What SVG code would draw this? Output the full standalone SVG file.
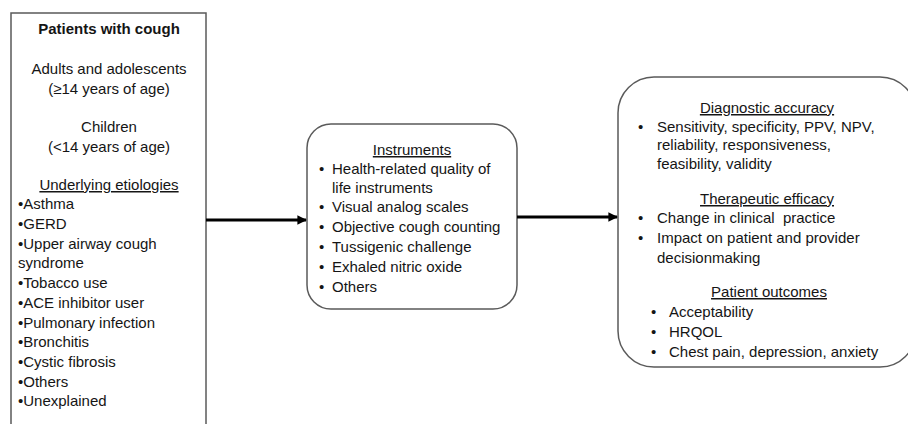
<svg xmlns="http://www.w3.org/2000/svg" width="908" height="424" viewBox="0 0 908 424">
<style>
text{font-family:"Liberation Sans",Arial,sans-serif;font-size:15px;fill:#151515}
.c{text-anchor:middle}
.b{font-weight:bold}
.u{text-decoration:underline}
.box{fill:#fff;stroke:#5a5a5a;stroke-width:1.5}
.conn{stroke:#000;stroke-width:3;fill:none}
</style>
<defs>
<marker id="ah" viewBox="0 0 10 10" refX="9" refY="5" markerWidth="3.2" markerHeight="3.2" orient="auto" markerUnits="strokeWidth">
<path d="M0,0 L10,5 L0,10 z" fill="#000"/>
</marker>
</defs>
<rect width="908" height="424" fill="#fff"/>
<g id="patients">
<rect class="box" x="11" y="13" width="195" height="430"/>
<text class="c b" x="109" y="34">Patients with cough</text>
<text class="c" x="109" y="74">Adults and adolescents</text>
<text class="c" x="109" y="94">(≥14 years of age)</text>
<text class="c" x="109" y="132">Children</text>
<text class="c" x="109" y="152">(&lt;14 years of age)</text>
<text class="c u" x="109" y="190">Underlying etiologies</text>
<text x="18" y="209">•Asthma</text>
<text x="18" y="229">•GERD</text>
<text x="18" y="249">•Upper airway cough</text>
<text x="18" y="268">syndrome</text>
<text x="18" y="288">•Tobacco use</text>
<text x="18" y="308">•ACE inhibitor user</text>
<text x="18" y="328">•Pulmonary infection</text>
<text x="18" y="347">•Bronchitis</text>
<text x="18" y="367">•Cystic fibrosis</text>
<text x="18" y="387">•Others</text>
<text x="18" y="406">•Unexplained</text>
</g>
<g id="instruments">
<rect class="box" x="307" y="124" width="210" height="185" rx="24" ry="24"/>
<text class="c u" x="412" y="155">Instruments</text>
<text x="319" y="174">•</text><text x="332" y="174">Health-related quality of</text>
<text x="332" y="193">life instruments</text>
<text x="319" y="212">•</text><text x="332" y="212">Visual analog scales</text>
<text x="319" y="232">•</text><text x="332" y="232">Objective cough counting</text>
<text x="319" y="252">•</text><text x="332" y="252">Tussigenic challenge</text>
<text x="319" y="272">•</text><text x="332" y="272">Exhaled nitric oxide</text>
<text x="319" y="292">•</text><text x="332" y="292">Others</text>
</g>
<g id="outcomes">
<rect class="box" x="618" y="77" width="298" height="290" rx="36" ry="36"/>
<text class="c u" x="767" y="113">Diagnostic accuracy</text>
<text x="638" y="132">•</text><text x="657" y="132">Sensitivity, specificity, PPV, NPV,</text>
<text x="657" y="150">reliability, responsiveness,</text>
<text x="657" y="169">feasibility, validity</text>
<text class="c u" x="767" y="204">Therapeutic efficacy</text>
<text x="638" y="223">•</text><text x="657" y="223">Change in clinical&#160; practice</text>
<text x="638" y="243">•</text><text x="657" y="243">Impact on patient and provider</text>
<text x="657" y="263">decisionmaking</text>
<text class="c u" x="769" y="297">Patient outcomes</text>
<text x="651" y="317">•</text><text x="669" y="317">Acceptability</text>
<text x="651" y="337">•</text><text x="669" y="337">HRQOL</text>
<text x="651" y="357">•</text><text x="669" y="357">Chest pain, depression, anxiety</text>
</g>
<g id="connectors">
<line class="conn" x1="206" y1="220" x2="306" y2="220" marker-end="url(#ah)"/>
<line class="conn" x1="517" y1="217" x2="617" y2="217" marker-end="url(#ah)"/>
</g>
</svg>
